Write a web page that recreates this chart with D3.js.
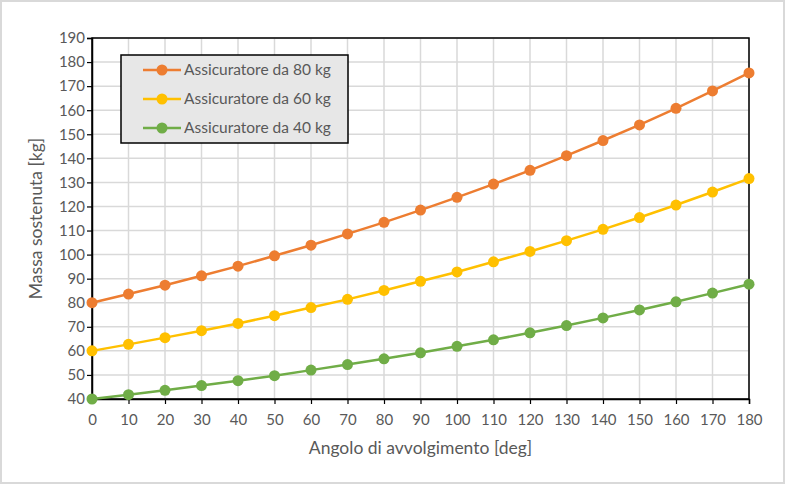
<!DOCTYPE html>
<html>
<head>
<meta charset="utf-8">
<script src="https://cdn.jsdelivr.net/npm/d3@7"></script>
<style>
  body { margin: 0; background: #fff; }
  svg { display: block; font-family: Lato, "Open Sans", sans-serif; }
</style>
</head>
<body>
<svg id="chart" width="785" height="484"></svg>
<script>
// angles [deg]
const angles = [0, 10, 20, 30, 40, 50, 60, 70, 80, 90, 100, 110, 120, 130, 140, 150, 160, 170, 180];
const mass80 = [80, 83.6, 87.3, 91.2, 95.2, 99.5, 103.9, 108.6, 113.4, 118.5, 123.8, 129.3, 135.0, 141.1, 147.4, 153.9, 160.8, 168.0, 175.5];
const mass60 = [60, 62.7, 65.5, 68.4, 71.4, 74.6, 78.0, 81.4, 85.1, 88.9, 92.8, 97.0, 101.3, 105.8, 110.5, 115.4, 120.6, 126.0, 131.6];
const mass40 = [40, 41.8, 43.6, 45.6, 47.6, 49.7, 52.0, 54.3, 56.7, 59.2, 61.9, 64.6, 67.5, 70.5, 73.7, 77.0, 80.4, 84.0, 87.7];
const yTicks = d3.range(40, 191, 10);

const series = [
  { name: 'Assicuratore da 80 kg', values: mass80, color: '#ED7D31' },
  { name: 'Assicuratore da 60 kg', values: mass60, color: '#FFC000' },
  { name: 'Assicuratore da 40 kg', values: mass40, color: '#70AD47' }
];

const svg = d3.select('#chart');
const W = 785, H = 484;
const pLeft = 92, pRight = 749, pTop = 38, pBottom = 399;

// outer frame
svg.append('rect')
  .attr('x', 1).attr('y', 1).attr('width', W - 2).attr('height', H - 2)
  .attr('fill', '#fff').attr('stroke', '#d9d9d9').attr('stroke-width', 2);

const x = d3.scaleLinear().domain([0, 180]).range([pLeft, pRight]);
const y = d3.scaleLinear().domain([40, 190]).range([pBottom, pTop]);

// grid
const grid = svg.append('g');
grid.selectAll('line.gy')
  .data(yTicks)
  .enter()
  .append('line')
  .attr('x1', pLeft).attr('x2', pRight)
  .attr('y1', d => y(d)).attr('y2', d => y(d))
  .attr('stroke', '#d9d9d9').attr('stroke-width', 1.5);
grid.selectAll('line.gx')
  .data(angles)
  .enter()
  .append('line')
  .attr('y1', pTop).attr('y2', pBottom)
  .attr('x1', d => x(d)).attr('x2', d => x(d))
  .attr('stroke', '#d9d9d9').attr('stroke-width', 1.5);

// plot border
svg.append('rect')
  .attr('x', pLeft).attr('y', pTop)
  .attr('width', pRight - pLeft).attr('height', pBottom - pTop)
  .attr('fill', 'none').attr('stroke', '#000').attr('stroke-width', 1.5);

// axes
const xAxis = svg.append('g')
  .attr('transform', `translate(0,${pBottom})`)
  .call(d3.axisBottom(x).tickValues(angles).tickSize(5).tickPadding(10));
const yAxis = svg.append('g')
  .attr('transform', `translate(${pLeft},0)`)
  .call(d3.axisLeft(y).tickValues(yTicks).tickSize(5).tickPadding(2));

[xAxis, yAxis].forEach(a => {
  a.select('.domain').attr('stroke', '#000').attr('stroke-width', 1.5);
  a.selectAll('.tick line').attr('stroke', '#000').attr('stroke-width', 1.2);
  a.selectAll('.tick text')
    .attr('fill', '#595959')
    .style('font-size', '15px')
    .style('font-family', 'Lato, sans-serif');
});

// axis titles
svg.append('text')
  .attr('x', (pLeft + pRight) / 2).attr('y', 454)
  .attr('text-anchor', 'middle')
  .attr('fill', '#595959')
  .style('font-size', '17.5px')
  .text('Angolo di avvolgimento [deg]');
svg.append('text')
  .attr('transform', `translate(42,${(pTop + pBottom) / 2}) rotate(-90)`)
  .attr('text-anchor', 'middle')
  .attr('fill', '#595959')
  .style('font-size', '17.5px')
  .text('Massa sostenuta [kg]');

// lines and markers
const line = d3.line()
  .x((d, i) => x(angles[i]))
  .y(d => y(d));

series.forEach(s => {
  svg.append('path')
    .datum(s.values)
    .attr('d', line)
    .attr('fill', 'none')
    .attr('stroke', s.color)
    .attr('stroke-width', 2.5);
  svg.append('g')
    .selectAll('circle')
    .data(s.values)
    .enter()
    .append('circle')
    .attr('cx', (d, i) => x(angles[i]))
    .attr('cy', d => y(d))
    .attr('r', 5.5)
    .attr('fill', s.color);
});

// legend
const legend = svg.append('g').attr('transform', 'translate(121,55)');
legend.append('rect')
  .attr('width', 227).attr('height', 88)
  .attr('fill', '#e7e7e7').attr('stroke', '#000').attr('stroke-width', 1.5);

const items = legend.selectAll('g.item')
  .data(series)
  .enter()
  .append('g')
  .attr('transform', (d, i) => `translate(0,${15 + i * 29})`);
items.append('line')
  .attr('x1', 22).attr('x2', 60)
  .attr('stroke', d => d.color).attr('stroke-width', 2.5);
items.append('circle')
  .attr('cx', 41).attr('r', 5.5)
  .attr('fill', d => d.color);
items.append('text')
  .attr('x', 63).attr('dy', '0.35em')
  .attr('fill', '#595959')
  .style('font-size', '15.5px')
  .text(d => d.name);
</script>
</body>
</html>
